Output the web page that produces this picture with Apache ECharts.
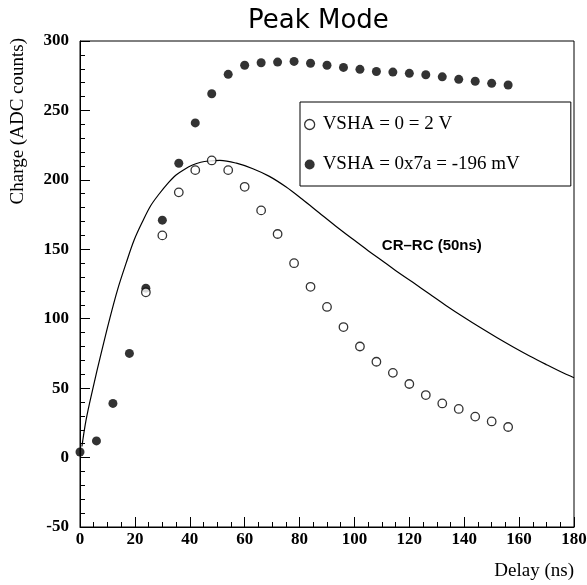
<!DOCTYPE html>
<html lang="en">
<head>
    <meta charset="UTF-8">
    <title>Peak Mode</title>
    <script src="https://cdn.jsdelivr.net/npm/echarts@6.0.0/dist/echarts.min.js"></script>
    <style>
        html, body { margin: 0; padding: 0; background: #fff; }
        #chart { width: 587px; height: 585px; }
    </style>
</head>
<body>
    <div id="chart"></div>

    <script>
        // delay values (ns) of the measurements
        const delays = [0, 6, 12, 18, 24, 30, 36, 42, 48, 54, 60, 66, 72, 78, 84, 90,
                        96, 102, 108, 114, 120, 126, 132, 138, 144, 150, 156];

        // VSHA = 0x7a = -196 mV (filled dots)
        const chargeFilled = [4, 12, 39, 75, 122, 171, 212, 241, 262, 276, 282.5, 284.3, 284.8, 285.3, 284, 282.5,
                              281, 279.6, 278, 277.6, 276.7, 275.7, 274.2, 272.4, 271, 269.5, 268.3];

        // VSHA = 0 = 2 V (open dots), starts at 24 ns
        const delaysOpen = [24, 30, 36, 42, 48, 54, 60, 66, 72, 78, 84, 90, 96, 102, 108, 114,
                            120, 126, 132, 138, 144, 150, 156];
        const chargeOpen = [119, 160, 191, 207, 214, 207, 195, 178, 161, 140, 123, 108.5, 94, 80, 69, 61,
                            53, 45, 39, 35, 29.5, 26, 22];

        // CR-RC (50ns) curve
        const curveX = [0.7, 2.2, 4.6, 7.7, 10.7, 13.7, 16.8, 19.8, 22.8, 25.8, 28.9, 32, 35, 38, 41, 44, 47, 51, 57, 63,
                        69, 75, 81, 87, 93, 99.6, 105, 111, 116, 121.4, 127.5, 133.6, 139.6, 145.7, 152, 158, 164, 170, 175, 180];
        const curveY = [8, 27, 49, 75, 99, 121, 140, 157, 170, 181.5, 190, 197.5, 203.5, 207.5, 210.7, 212.7, 213.6, 214, 212, 208,
                        202.5, 195, 186, 176.5, 167, 157, 149, 140.5, 133.2, 126, 117.6, 109.2, 101.4, 93.8, 86.3, 79.5, 73, 66.9, 62, 57.5];

        const legendNames = ['VSHA = 0 = 2 V', 'VSHA = 0x7a = -196 mV'];

        const zip = (xs, ys) => xs.map((x, i) => [x, ys[i]]);

        const serif = '"Liberation Serif", "Times New Roman", serif';
        const sans = '"Liberation Sans", Arial, sans-serif';

        const chart = echarts.init(document.getElementById('chart'));

        const option = {
            animation: false,
            backgroundColor: '#fff',
            title: {
                text: 'Peak Mode',
                left: 243,
                top: 3,
                textStyle: { fontFamily: '"DejaVu Sans", sans-serif', fontWeight: 'normal', fontSize: 26, color: '#000' }
            },
            grid: {
                left: 80, right: 13, top: 41, bottom: 58,
                show: true, borderColor: '#000', borderWidth: 1,
                outerBoundsMode: 'none'
            },
            legend: {
                orient: 'vertical',
                left: 300,
                top: 102,
                padding: [13, 51, 12, 4],
                itemGap: 21,
                itemWidth: 16,
                itemHeight: 10,
                borderColor: '#000',
                borderWidth: 1,
                textStyle: { fontFamily: serif, fontSize: 19, lineHeight: 19, color: '#000' },
                data: [
                    { name: legendNames[0], icon: 'circle',
                      itemStyle: { color: '#fff', borderColor: '#000', borderWidth: 1.3 } },
                    { name: legendNames[1], icon: 'circle', itemStyle: { color: '#000' } }
                ]
            },
            xAxis: {
                type: 'value',
                min: 0, max: 180, interval: 20,
                name: 'Delay (ns)',
                nameLocation: 'end',
                nameGap: 0,
                nameTextStyle: {
                    fontFamily: serif, fontSize: 19, color: '#000',
                    align: 'right', verticalAlign: 'top', padding: [35, 0, 0, 0]
                },
                axisLine: { onZero: false, lineStyle: { color: '#000', width: 1 } },
                axisTick: { inside: true, length: 10, lineStyle: { color: '#000' } },
                minorTick: { show: true, splitNumber: 4, length: 5, lineStyle: { color: '#000' } },
                splitLine: { show: false },
                axisLabel: { fontFamily: serif, fontWeight: 'bold', fontSize: 17, color: '#000', margin: 4 }
            },
            yAxis: {
                type: 'value',
                min: -50, max: 300, interval: 50,
                name: 'Charge (ADC counts)',
                nameLocation: 'end',
                nameRotate: 90,
                nameGap: 3,
                nameTextStyle: {
                    fontFamily: serif, fontSize: 19, color: '#000',
                    align: 'right', verticalAlign: 'bottom', padding: [0, 0, 52, 0]
                },
                axisLine: { show: true, onZero: false, lineStyle: { color: '#000', width: 1 } },
                axisTick: { show: true, inside: true, length: 10, lineStyle: { color: '#000' } },
                minorTick: { show: true, splitNumber: 5, length: 5, lineStyle: { color: '#000' } },
                splitLine: { show: false },
                axisLabel: { fontFamily: serif, fontWeight: 'bold', fontSize: 17, color: '#000', margin: 11 }
            },
            series: [
                {
                    name: 'CR-RC (50ns)',
                    type: 'line',
                    data: zip(curveX, curveY),
                    smooth: 0.35,
                    showSymbol: false,
                    lineStyle: { color: '#000', width: 1.2 },
                    markPoint: {
                        symbol: 'circle',
                        symbolSize: 0,
                        data: [{ coord: [128.2, 152.3] }],
                        label: {
                            show: true,
                            formatter: 'CR\u2013RC (50ns)',
                            position: 'inside',
                            fontFamily: sans, fontWeight: 'bold', fontSize: 15, color: '#000'
                        }
                    },
                    z: 2
                },
                {
                    name: legendNames[1],
                    type: 'scatter',
                    data: zip(delays, chargeFilled),
                    symbol: 'circle',
                    symbolSize: 9,
                    itemStyle: { color: '#000' },
                    z: 3
                },
                {
                    name: legendNames[0],
                    type: 'scatter',
                    data: zip(delaysOpen, chargeOpen),
                    symbol: 'circle',
                    symbolSize: 8.5,
                    itemStyle: { color: '#fff', borderColor: '#000', borderWidth: 1.3 },
                    z: 4
                }
            ]
        };

        chart.setOption(option);
    </script>
</body>
</html>
